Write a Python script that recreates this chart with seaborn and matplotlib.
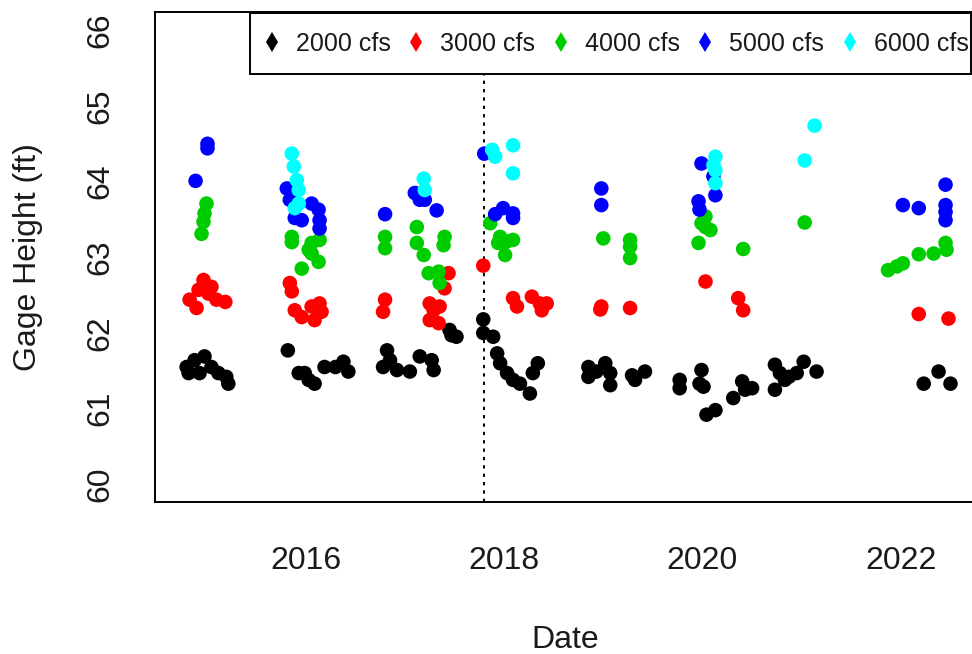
import numpy as np
import pandas as pd
import matplotlib
matplotlib.use("Agg")
import matplotlib.pyplot as plt
import seaborn as sns
from matplotlib.lines import Line2D
from matplotlib.patches import Rectangle

# ---------------- data (decimal year, gage height in ft) ----------------
labels = ["2000 cfs", "3000 cfs", "4000 cfs", "5000 cfs", "6000 cfs"]
colors = ["#000000", "#FF0000", "#00CD00", "#0000FF", "#00FFFF"]

black_year = [2014.80, 2014.88, 2014.98, 2014.93, 2015.05, 2015.12, 2015.20, 2015.22, 2014.82,
              2015.82, 2015.93, 2016.03, 2016.09, 2016.19, 2016.30, 2016.38, 2016.43, 2015.99,
              2016.82, 2016.78, 2016.92, 2017.05, 2017.15, 2017.27, 2017.29, 2016.85,
              2017.47, 2017.45, 2017.52, 2017.79, 2017.79, 2017.89, 2017.93, 2017.96, 2018.03,
              2018.09, 2018.16, 2018.26, 2018.29, 2018.34,
              2018.85, 2018.85, 2019.02, 2019.07, 2019.07, 2018.93, 2019.29, 2019.42, 2019.32,
              2019.77, 2019.77, 2019.99, 2019.97, 2020.01, 2020.04, 2020.13, 2020.31, 2020.40,
              2020.50, 2020.43,
              2020.73, 2020.78, 2020.87, 2020.95, 2021.02, 2021.15, 2020.73, 2020.83,
              2022.23, 2022.38, 2022.50]
black_h = [61.55, 61.64, 61.69, 61.47, 61.55, 61.47, 61.42, 61.33, 61.47,
           61.77, 61.47, 61.38, 61.33, 61.55, 61.55, 61.62, 61.49, 61.47,
           61.77, 61.55, 61.51, 61.49, 61.69, 61.64, 61.51, 61.64,
           61.97, 62.04, 61.95, 62.18, 62.00, 61.95, 61.73, 61.60, 61.47,
           61.38, 61.33, 61.20, 61.47, 61.60,
           61.55, 61.42, 61.60, 61.47, 61.31, 61.49, 61.44, 61.49, 61.38,
           61.38, 61.27, 61.51, 61.33, 61.29, 60.92, 60.98, 61.14, 61.36,
           61.27, 61.25,
           61.58, 61.47, 61.42, 61.47, 61.62, 61.49, 61.25, 61.38,
           61.33, 61.49, 61.33]

red_year = [2014.97, 2014.83, 2014.90, 2015.02, 2015.10, 2015.19, 2014.92, 2015.05,
            2015.84, 2015.86, 2015.89, 2015.96, 2016.06, 2016.14, 2016.09, 2016.16,
            2016.80, 2016.78, 2017.25, 2017.35, 2017.25, 2017.34, 2017.29, 2017.44, 2017.40, 2017.79,
            2018.09, 2018.13, 2018.28, 2018.36, 2018.38, 2018.43,
            2018.98, 2018.97, 2019.27,
            2020.03, 2020.36, 2020.41,
            2022.18, 2022.48]
red_h = [62.70, 62.44, 62.33, 62.52, 62.44, 62.41, 62.57, 62.61,
         62.66, 62.55, 62.30, 62.21, 62.35, 62.39, 62.17, 62.28,
         62.44, 62.28, 62.39, 62.35, 62.17, 62.13, 62.30, 62.79, 62.59, 62.89,
         62.46, 62.35, 62.48, 62.39, 62.30, 62.39,
         62.35, 62.31, 62.33,
         62.68, 62.46, 62.30,
         62.25, 62.19]

green_year = [2015.00, 2014.98, 2014.97, 2014.95,
              2015.86, 2015.86, 2016.06, 2016.14, 2016.06, 2016.13, 2015.96, 2016.03,
              2016.80, 2016.80, 2017.12, 2017.12, 2017.19, 2017.40, 2017.39, 2017.24, 2017.34, 2017.35,
              2017.86, 2017.96, 2018.03, 2018.09, 2018.01, 2017.94,
              2019.00, 2019.27, 2019.27, 2019.27,
              2020.03, 2020.03, 2020.08, 2019.96, 2019.99, 2020.41,
              2021.03,
              2021.87, 2022.02, 2022.18, 2022.33, 2022.45, 2022.46, 2021.96]
green_h = [63.71, 63.58, 63.47, 63.31,
           63.27, 63.20, 63.19, 63.23, 63.05, 62.94, 62.85, 63.10,
           63.27, 63.12, 63.40, 63.19, 63.03, 63.27, 63.16, 62.79, 62.81, 62.66,
           63.45, 63.27, 63.21, 63.23, 63.03, 63.19,
           63.25, 63.23, 62.99, 63.14,
           63.54, 63.40, 63.36, 63.19, 63.45, 63.11,
           63.46,
           62.83, 62.92, 63.04, 63.05, 63.19, 63.10, 62.88]

blue_year = [2015.01, 2015.01, 2014.89,
             2015.81, 2015.84, 2015.89, 2015.96, 2016.06, 2016.13, 2016.14, 2016.14,
             2016.80, 2017.10, 2017.15, 2017.20, 2017.32,
             2017.80, 2017.91, 2017.99, 2018.09, 2018.09,
             2018.98, 2018.98,
             2019.99, 2020.11, 2020.13, 2019.96, 2019.97,
             2022.02, 2022.18, 2022.45, 2022.45, 2022.45, 2022.45]
blue_h = [64.50, 64.44, 64.01,
          63.91, 63.76, 63.52, 63.49, 63.71, 63.63, 63.49, 63.38,
          63.57, 63.85, 63.76, 63.76, 63.62,
          64.37, 63.57, 63.65, 63.58, 63.52,
          63.91, 63.69,
          64.24, 64.07, 63.82, 63.74, 63.63,
          63.69, 63.65, 63.96, 63.69, 63.49, 63.60]

cyan_year = [2015.86, 2015.88, 2015.91, 2015.93, 2015.93, 2015.89,
             2017.19, 2017.20,
             2017.88, 2017.91, 2018.09, 2018.09,
             2020.13, 2020.13, 2020.13, 2020.11,
             2021.13, 2021.03]
cyan_h = [64.37, 64.20, 64.02, 63.89, 63.71, 63.65,
          64.04, 63.89,
          64.42, 64.33, 64.48, 64.11,
          64.33, 64.15, 63.98, 64.22,
          64.74, 64.28]

x_ticks = [2016, 2018, 2020, 2022]
y_ticks = [60, 61, 62, 63, 64, 65, 66]
split_year = 2017.80

# ---------------- build table ----------------
series = [(black_year, black_h), (red_year, red_h), (green_year, green_h),
          (blue_year, blue_h), (cyan_year, cyan_h)]
frames = []
for lab, (yr, h) in zip(labels, series):
    frames.append(pd.DataFrame({"year": yr, "height": h, "flow": lab}))
df = pd.concat(frames, ignore_index=True)

# ---------------- figure ----------------
sns.set_style("white")
plt.rcParams["font.family"] = ["Liberation Sans", "DejaVu Sans"]

W, H = 972, 654
fig = plt.figure(figsize=(W / 100, H / 100), dpi=100)
ax_l, ax_r, ax_t, ax_b = 155.3, 975.0, 11.7, 502.0
ax = fig.add_axes([ax_l / W, 1 - ax_b / H, (ax_r - ax_l) / W, (ax_b - ax_t) / H])

palette = dict(zip(labels, colors))
sns.scatterplot(data=df, x="year", y="height", hue="flow", hue_order=labels,
                palette=palette, s=110, linewidth=0, legend=False, ax=ax, zorder=3)

ax.axvline(split_year, color="black", lw=1.4, ls=(0, (1.7, 2.6)), zorder=2)

ax.set_xlim(2014.484, 2022.747)
ax.set_ylim(59.766, 66.246)
ax.set_xticks(x_ticks)
ax.set_xticklabels([str(t) for t in x_ticks])
ax.set_yticks(y_ticks)
ax.set_yticklabels([str(t) for t in y_ticks])

for sp in ax.spines.values():
    sp.set_visible(True)
    sp.set_color("black")
    sp.set_linewidth(1.4)

ax.tick_params(axis="both", direction="out", length=13.5, width=1.4,
               labelsize=23, colors="black", labelcolor="#1a1a1a")
ax.tick_params(axis="x", pad=18.5)
ax.tick_params(axis="y", pad=15.5)
for lab in ax.get_yticklabels():
    lab.set_rotation(90)
    lab.set_va("center")

ax.set_xlabel("Date", fontsize=23, color="#1a1a1a")
ax.set_ylabel("Gage Height (ft)", fontsize=23, color="#1a1a1a")
plot_h = ax_b - ax_t
plot_w = ax_r - ax_l
ax.xaxis.set_label_coords(0.5, (ax_b - 640) / plot_h)
ax.xaxis.label.set_va("center")
ax.yaxis.set_label_coords((28 - ax_l) / plot_w, 0.5)
ax.yaxis.label.set_va("center")

# ---------------- legend ----------------
rect = Rectangle((249.6 / W, 1 - 73.5 / H), (971 - 249.6) / W, (73.5 - 13) / H,
                 transform=fig.transFigure, facecolor="white", edgecolor="black",
                 linewidth=1.4, zorder=10)
fig.add_artist(rect)

handles = [Line2D([], [], marker="d", ls="none", color=c, markersize=10, markeredgewidth=0)
           for c in colors]
leg = fig.legend(handles, labels, loc="center left",
                 bbox_to_anchor=(264.5 / W, 1 - 44 / H), ncol=5, frameon=False,
                 fontsize=18, handlelength=0.6, handletextpad=0.66,
                 columnspacing=0.72, borderpad=0, borderaxespad=0)
for t in leg.get_texts():
    t.set_color("#1a1a1a")
leg.set_zorder(11)

fig.savefig("out.png", dpi=100)
